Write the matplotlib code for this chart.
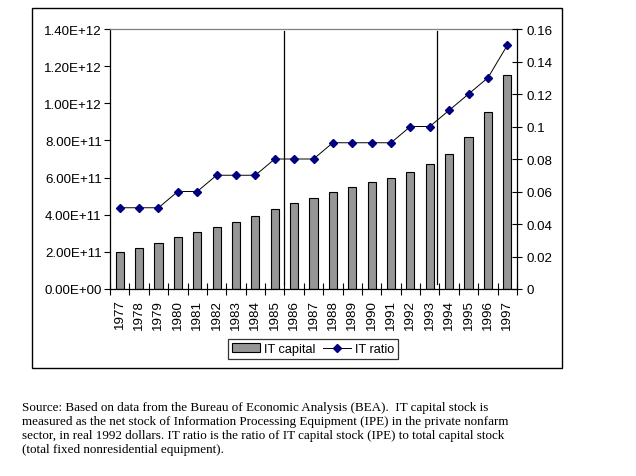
import matplotlib
matplotlib.use("Agg")
import matplotlib.pyplot as plt
from matplotlib.patches import Rectangle
from matplotlib.lines import Line2D
from matplotlib.patches import Patch
import numpy as np

years = [str(y) for y in range(1977, 1998)]
it_capital = [2.00e11, 2.20e11, 2.46e11, 2.78e11, 3.05e11, 3.32e11, 3.59e11, 3.91e11,
              4.29e11, 4.61e11, 4.88e11, 5.20e11, 5.47e11, 5.74e11, 5.96e11, 6.28e11,
              6.71e11, 7.25e11, 8.18e11, 9.51e11, 1.15e12]
it_ratio = [0.05, 0.05, 0.05, 0.06, 0.06, 0.07, 0.07, 0.07, 0.08, 0.08, 0.08, 0.09,
            0.09, 0.09, 0.09, 0.10, 0.10, 0.11, 0.12, 0.13, 0.15]
left_ticks = [0, 2e11, 4e11, 6e11, 8e11, 1e12, 1.2e12, 1.4e12]
left_labels = ["0.00E+00", "2.00E+11", "4.00E+11", "6.00E+11", "8.00E+11",
               "1.00E+12", "1.20E+12", "1.40E+12"]
right_ticks = [0, 0.02, 0.04, 0.06, 0.08, 0.10, 0.12, 0.14, 0.16]
right_labels = ["0", "0.02", "0.04", "0.06", "0.08", "0.1", "0.12", "0.14", "0.16"]
breaks = [8.49, 16.39]
caption = [
    "Source: Based on data from the Bureau of Economic Analysis (BEA).  IT capital stock is",
    "measured as the net stock of Information Processing Equipment (IPE) in the private nonfarm",
    "sector, in real 1992 dollars. IT ratio is the ratio of IT capital stock (IPE) to total capital stock",
    "(total fixed nonresidential equipment).",
]

W, H = 636, 477
fig = plt.figure(figsize=(W / 100, H / 100), dpi=100)
fig.patch.set_facecolor("white")
sans = ["Liberation Sans", "DejaVu Sans"]
fs = 9.6

ax = fig.add_axes([110 / W, 1 - 290 / H, 407 / W, 260 / H])
x = np.arange(len(years))
ax.bar(x, it_capital, width=0.42, color="#969696", edgecolor="black", linewidth=0.8, zorder=2)
ax.set_xlim(-0.5, len(years) - 0.5)
ax.set_ylim(0, 1.4e12)
ax.set_yticks(left_ticks)
ax.set_yticklabels(left_labels, fontfamily=sans, fontsize=fs)
ax.tick_params(axis="y", direction="out", length=4, width=0.8, pad=2)
ax.set_xticks(x)
ax.set_xticklabels(years, rotation=90, fontfamily=sans, fontsize=fs)
ax.tick_params(axis="x", length=0, pad=7)
ax.set_xticks(np.arange(-0.5, len(years)), minor=True)
ax.tick_params(axis="x", which="minor", direction="inout", length=8, width=0.8)
for s in ["left", "bottom"]:
    ax.spines[s].set_color("black")
    ax.spines[s].set_linewidth(0.9)
ax.spines["top"].set_color("#808080")
ax.spines["top"].set_linewidth(0.9)
ax.spines["right"].set_visible(False)

for b in breaks:
    ax.axvline(b, ymin=0.019, ymax=0.992, color="black", linewidth=0.9, zorder=3)

ax2 = ax.twinx()
ax2.plot(x, it_ratio, color="black", linewidth=0.7, marker="D", markersize=4.5,
         markerfacecolor="#000080", markeredgecolor="#000080", zorder=4)
ax2.set_ylim(0, 0.16)
ax2.set_yticks(right_ticks)
ax2.set_yticklabels(right_labels, fontfamily=sans, fontsize=fs)
ax2.tick_params(axis="y", direction="inout", length=7, width=0.8, pad=3)
for s in ["left", "bottom", "top"]:
    ax2.spines[s].set_visible(False)
ax2.spines["right"].set_color("black")
ax2.spines["right"].set_linewidth(0.9)

handles = [Patch(facecolor="#969696", edgecolor="black", linewidth=0.8),
           Line2D([], [], color="black", linewidth=0.7, marker="D", markersize=4.5,
                  markerfacecolor="#000080", markeredgecolor="#000080")]
leg = fig.legend(handles, ["IT capital", "IT ratio"], loc="center",
                 bbox_to_anchor=(313 / W, 1 - 350 / H), ncol=2, frameon=True,
                 fancybox=False, edgecolor="black", prop={"family": sans, "size": 9.2},
                 handlelength=2.2, handleheight=0.7, handletextpad=0.3, columnspacing=0.6,
                 borderpad=0.3, borderaxespad=0)
leg.get_frame().set_linewidth(0.9)

fig.add_artist(Rectangle((32 / W, 1 - 369 / H), 530 / W, 360 / H, transform=fig.transFigure,
                         fill=False, edgecolor="black", linewidth=1.0))

for i, line in enumerate(caption):
    fig.text(22 / W, 1 - (408 + 14 * i) / H, line, ha="left", va="center",
             fontfamily=["Liberation Serif", "DejaVu Serif"], fontsize=9.45)

fig.savefig("out.png", dpi=100)
